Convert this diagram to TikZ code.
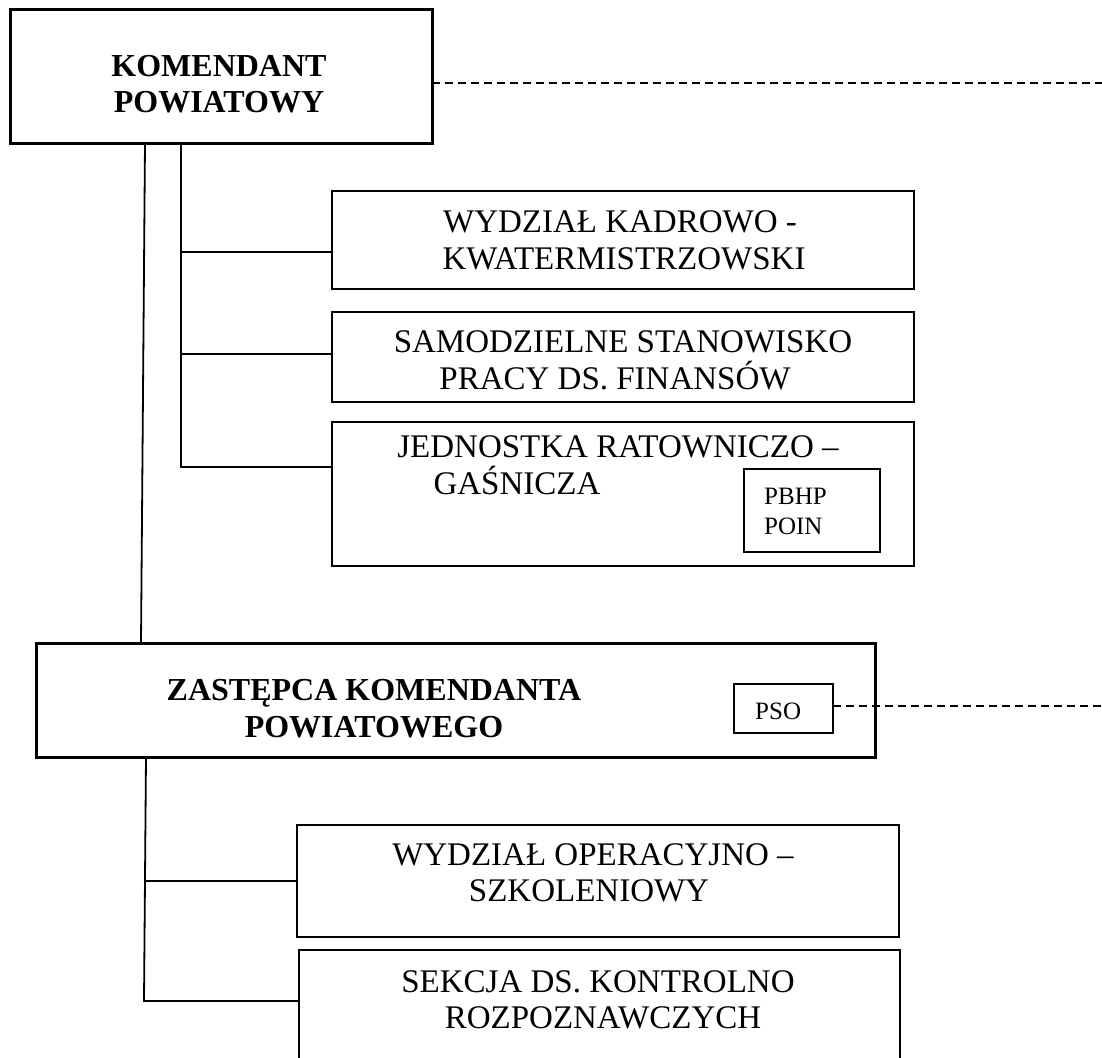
\documentclass[tikz,border=0pt]{standalone}
\usepackage{fontspec}
\setmainfont{Liberation Serif}
\usetikzlibrary{calc}
\tikzset{
  thickbox/.style={draw, line width=3pt, rectangle, inner sep=0pt, outer sep=0pt},
  thinbox/.style={draw, line width=1.8pt, rectangle, inner sep=0pt, outer sep=0pt},
  conn/.style={line width=1.8pt},
  dashconn/.style={line width=1.6pt, dash pattern=on 8pt off 5pt},
  btxt/.style={inner sep=0pt, anchor=base, font=\fontsize{32}{37}\selectfont\bfseries},
  ntxt/.style={inner sep=0pt, anchor=base, font=\fontsize{33}{37}\selectfont},
  stxt/.style={inner sep=0pt, anchor=base west, font=\fontsize{25}{30}\selectfont}
}
\begin{document}
\begin{tikzpicture}[x=1pt,y=-1pt]
\useasboundingbox (0,0) rectangle (1102,1057);
\clip (0,0) rectangle (1102,1057);
% boxes
\node[thickbox, minimum width=422pt, minimum height=133pt] (KP) at (221,76.5) {};
\node[thinbox, minimum width=582pt, minimum height=98pt] (W1) at (623,240) {};
\node[thinbox, minimum width=582pt, minimum height=90pt] (W2) at (623,357) {};
\node[thinbox, minimum width=582pt, minimum height=144pt] (W3) at (623,494) {};
\node[thinbox, minimum width=136pt, minimum height=83pt] (PB) at (812,510.5) {};
\node[thickbox, minimum width=839pt, minimum height=114pt] (ZAS) at (455.5,700) {};
\node[thinbox, minimum width=99pt, minimum height=49pt] (PSO) at (783.5,708.5) {};
\node[thinbox, minimum width=602pt, minimum height=112pt] (OP) at (598,881) {};
\node[thinbox, minimum width=601pt, minimum height=150pt] (SEK) at (599.5,1025) {};
% texts
\node[btxt] (kpa) at (219,76) {KOMENDANT};
\node[btxt] (kpb) at (219,112) {POWIATOWY};
\node[ntxt] (w1a) at (620,232) {WYDZIAŁ KADROWO -};
\node[ntxt] (w1b) at (624,269) {KWATERMISTRZOWSKI};
\node[ntxt] (w2a) at (623,352) {SAMODZIELNE STANOWISKO};
\node[ntxt] (w2b) at (615,389) {PRACY DS. FINANSÓW};
\node[ntxt] (w3a) at (618,457) {JEDNOSTKA RATOWNICZO –};
\node[ntxt] (w3b) at (517,494) {GAŚNICZA};
\node[stxt] (pba) at (764,504) {PBHP};
\node[stxt] (pbb) at (764,534) {POIN};
\node[btxt] (zasa) at (374,700) {ZASTĘPCA KOMENDANTA};
\node[btxt] (zasb) at (374,737) {POWIATOWEGO};
\node[stxt] (psot) at (755,719) {PSO};
\node[ntxt] (opa) at (593,865) {WYDZIAŁ OPERACYJNO –};
\node[ntxt] (opb) at (589,901) {SZKOLENIOWY};
\node[ntxt] (seka) at (598,992) {SEKCJA DS. KONTROLNO};
\node[ntxt] (sekb) at (603,1028) {ROZPOZNAWCZYCH};
% junction coordinates
\coordinate (j1) at (181,252);
\coordinate (j2) at (181,354);
\coordinate (j3) at (181,467);
\coordinate (k1) at (146,881);
\coordinate (k2) at (144,1001);
\coordinate (d1) at (1102,83);
\coordinate (d2) at (1102,706);
% connectors
\draw[conn] ([xshift=135pt]KP.south west) -- ([xshift=105pt]ZAS.north west);
\draw[conn] ([xshift=171pt]KP.south west) -- (j3) -- (j3 -| W3.west);
\draw[conn] (j1) -- (j1 -| W1.west);
\draw[conn] (j2) -- (j2 -| W2.west);
\draw[conn] ([xshift=110pt]ZAS.south west) -- (k2) -- (k2 -| SEK.west);
\draw[conn] (k1) -- (k1 -| OP.west);
\draw[dashconn] (KP.east |- d1) -- (d1);
\draw[dashconn] (PSO.east |- d2) -- (d2);
\end{tikzpicture}
\end{document}
